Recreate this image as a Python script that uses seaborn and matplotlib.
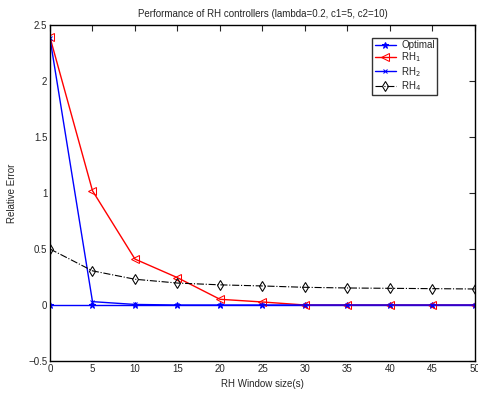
import numpy as np
import pandas as pd
import matplotlib
matplotlib.use("Agg")
import matplotlib.pyplot as plt
import seaborn as sns

window = [0, 5, 10, 15, 20, 25, 30, 35, 40, 45, 50]
optimal = [0, 0, 0, 0, 0, 0, 0, 0, 0, 0, 0]
rh1 = [2.39, 1.02, 0.41, 0.244, 0.051, 0.027, 0.0, 0.0, 0.0, 0.0, 0.0]
rh2 = [2.38, 0.03, 0.005, 0.0, 0.0, 0.0, 0.0, 0.0, 0.0, 0.0, 0.0]
rh4 = [0.5, 0.305, 0.23, 0.196, 0.18, 0.17, 0.158, 0.152, 0.149, 0.146, 0.143]

sns.set_style("white")
plt.rcParams['font.family'] = ['Liberation Sans', 'DejaVu Sans']
plt.rcParams['font.size'] = 7

fig = plt.figure(figsize=(4.78, 3.93), dpi=100)
ax = fig.add_axes([0.1046, 0.0814, 0.889, 0.855])

sns.lineplot(x=window, y=optimal, ax=ax, color='blue', marker='*', markersize=4.5,
             markeredgecolor='blue', linewidth=1, label='Optimal')
sns.lineplot(x=window, y=rh1, ax=ax, color='red', marker='<', markersize=5.5,
             markerfacecolor='none', markeredgecolor='red', linewidth=1, label='RH$_1$')
sns.lineplot(x=window, y=rh2, ax=ax, color='blue', marker='x', markersize=3.5,
             markeredgecolor='blue', linewidth=1, label='RH$_2$')
sns.lineplot(x=window, y=rh4, ax=ax, color='black', marker='d', markersize=5,
             markerfacecolor='none', markeredgecolor='black', linewidth=0.8,
             linestyle='-.', label='RH$_4$')

ax.set_xlim(0, 50)
ax.set_ylim(-0.5, 2.5)
ax.set_xticks(range(0, 51, 5))
ax.set_yticks([-0.5, 0, 0.5, 1, 1.5, 2, 2.5])
ax.set_yticklabels(['\u22120.5', '0', '0.5', '1', '1.5', '2', '2.5'])
ax.tick_params(direction='in', top=True, right=True, length=4, width=0.8,
               labelsize=7, pad=2)
for s in ax.spines.values():
    s.set_linewidth(1)
    s.set_color('black')

ax.set_title('Performance of RH controllers (lambda=0.2, c1=5, c2=10)', fontsize=7, pad=6)
ax.set_xlabel('RH Window size(s)', fontsize=7)
ax.set_ylabel('Relative Error', fontsize=7, labelpad=8)

leg = ax.legend(loc='upper right', bbox_to_anchor=(0.922, 0.977), fontsize=7,
                frameon=True, fancybox=False, edgecolor='black', handlelength=2.2,
                borderpad=0.25, labelspacing=0.05, handletextpad=0.5)
leg.get_frame().set_linewidth(1)

fig.savefig('out.png', dpi=100)
